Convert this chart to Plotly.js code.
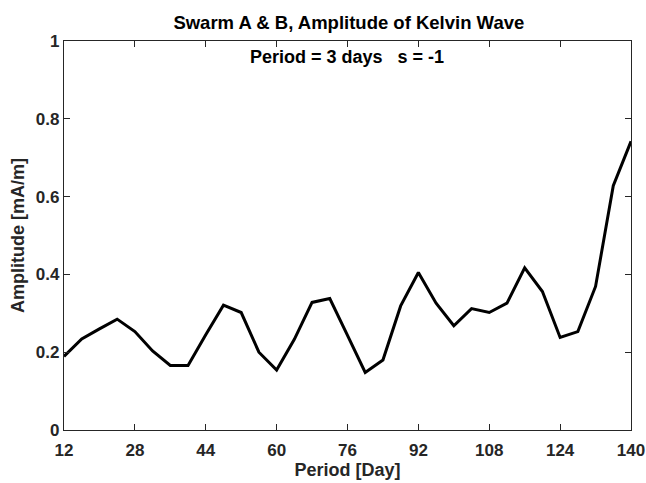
<!DOCTYPE html>
<html>
<head>
<meta charset="utf-8">
<script src="https://cdn.plot.ly/plotly-3.0.1.min.js"></script>
<style>html,body{margin:0;padding:0;background:#fff;}#chart{width:646px;height:483px;}</style>
</head>
<body>
<div id="chart"></div>
<script>
const periodDays = [12,16,20,24,28,32,36,40,44,48,52,56,60,64,68,72,76,80,84,88,92,96,100,104,108,112,116,120,124,128,132,136,140];
const amplitude = [0.189,0.234,0.26,0.285,0.253,0.203,0.166,0.166,0.245,0.321,0.302,0.2,0.154,0.233,0.328,0.338,0.243,0.148,0.18,0.319,0.405,0.326,0.268,0.312,0.302,0.326,0.417,0.356,0.238,0.253,0.369,0.628,0.742];
const xTicks = [12,28,44,60,76,92,108,124,140];
const yTicks = [0,0.2,0.4,0.6,0.8,1];
const yTickText = ["0","0.2","0.4","0.6","0.8","1"];

const fontFam = "Liberation Sans, Arial, sans-serif";
const axisCol = "#262626";

const trace = {
  x: periodDays, y: amplitude, type: "scatter", mode: "lines",
  line: {color: "#000000", width: 3}, hoverinfo: "skip"
};

const common = {
  showgrid: false, zeroline: false, showline: true, mirror: "ticks",
  linecolor: axisCol, linewidth: 1.2, ticks: "inside", ticklen: 6, tickwidth: 1.2,
  tickcolor: axisCol, automargin: false,
  tickfont: {family: fontFam, size: 17, color: axisCol, weight: "bold"}
};

const layout = {
  width: 646, height: 483,
  margin: {l: 64, r: 15, t: 41, b: 53},
  paper_bgcolor: "#ffffff", plot_bgcolor: "#ffffff",
  showlegend: false,
  title: {text: "<b>Swarm A &amp; B, Amplitude of Kelvin Wave</b>", x: 0.54, xanchor: "center", y: 0.953, yanchor: "middle",
          font: {family: fontFam, size: 18.5, color: "#000000"}},
  xaxis: Object.assign({}, common, {
    range: [12, 140], tickvals: xTicks, ticktext: xTicks.map(String), ticklabelstandoff: 4,
    title: {text: "<b>Period [Day]</b>", font: {family: fontFam, size: 18, color: axisCol}, standoff: 3}
  }),
  yaxis: Object.assign({}, common, {
    range: [0, 1], tickvals: yTicks, ticktext: yTickText,
    title: {text: "<b>Amplitude [mA/m]</b>", font: {family: fontFam, size: 18, color: axisCol}, standoff: 6}
  }),
  annotations: [{
    text: "<b>Period = 3 days\u00a0\u00a0\u00a0s = -1</b>", xref: "paper", yref: "paper", x: 0.499, y: 0.958,
    xanchor: "center", yanchor: "middle", showarrow: false,
    font: {family: fontFam, size: 18, color: "#000000"}
  }]
};

Plotly.newPlot("chart", [trace], layout, {displayModeBar: false, staticPlot: true});
</script>
</body>
</html>
